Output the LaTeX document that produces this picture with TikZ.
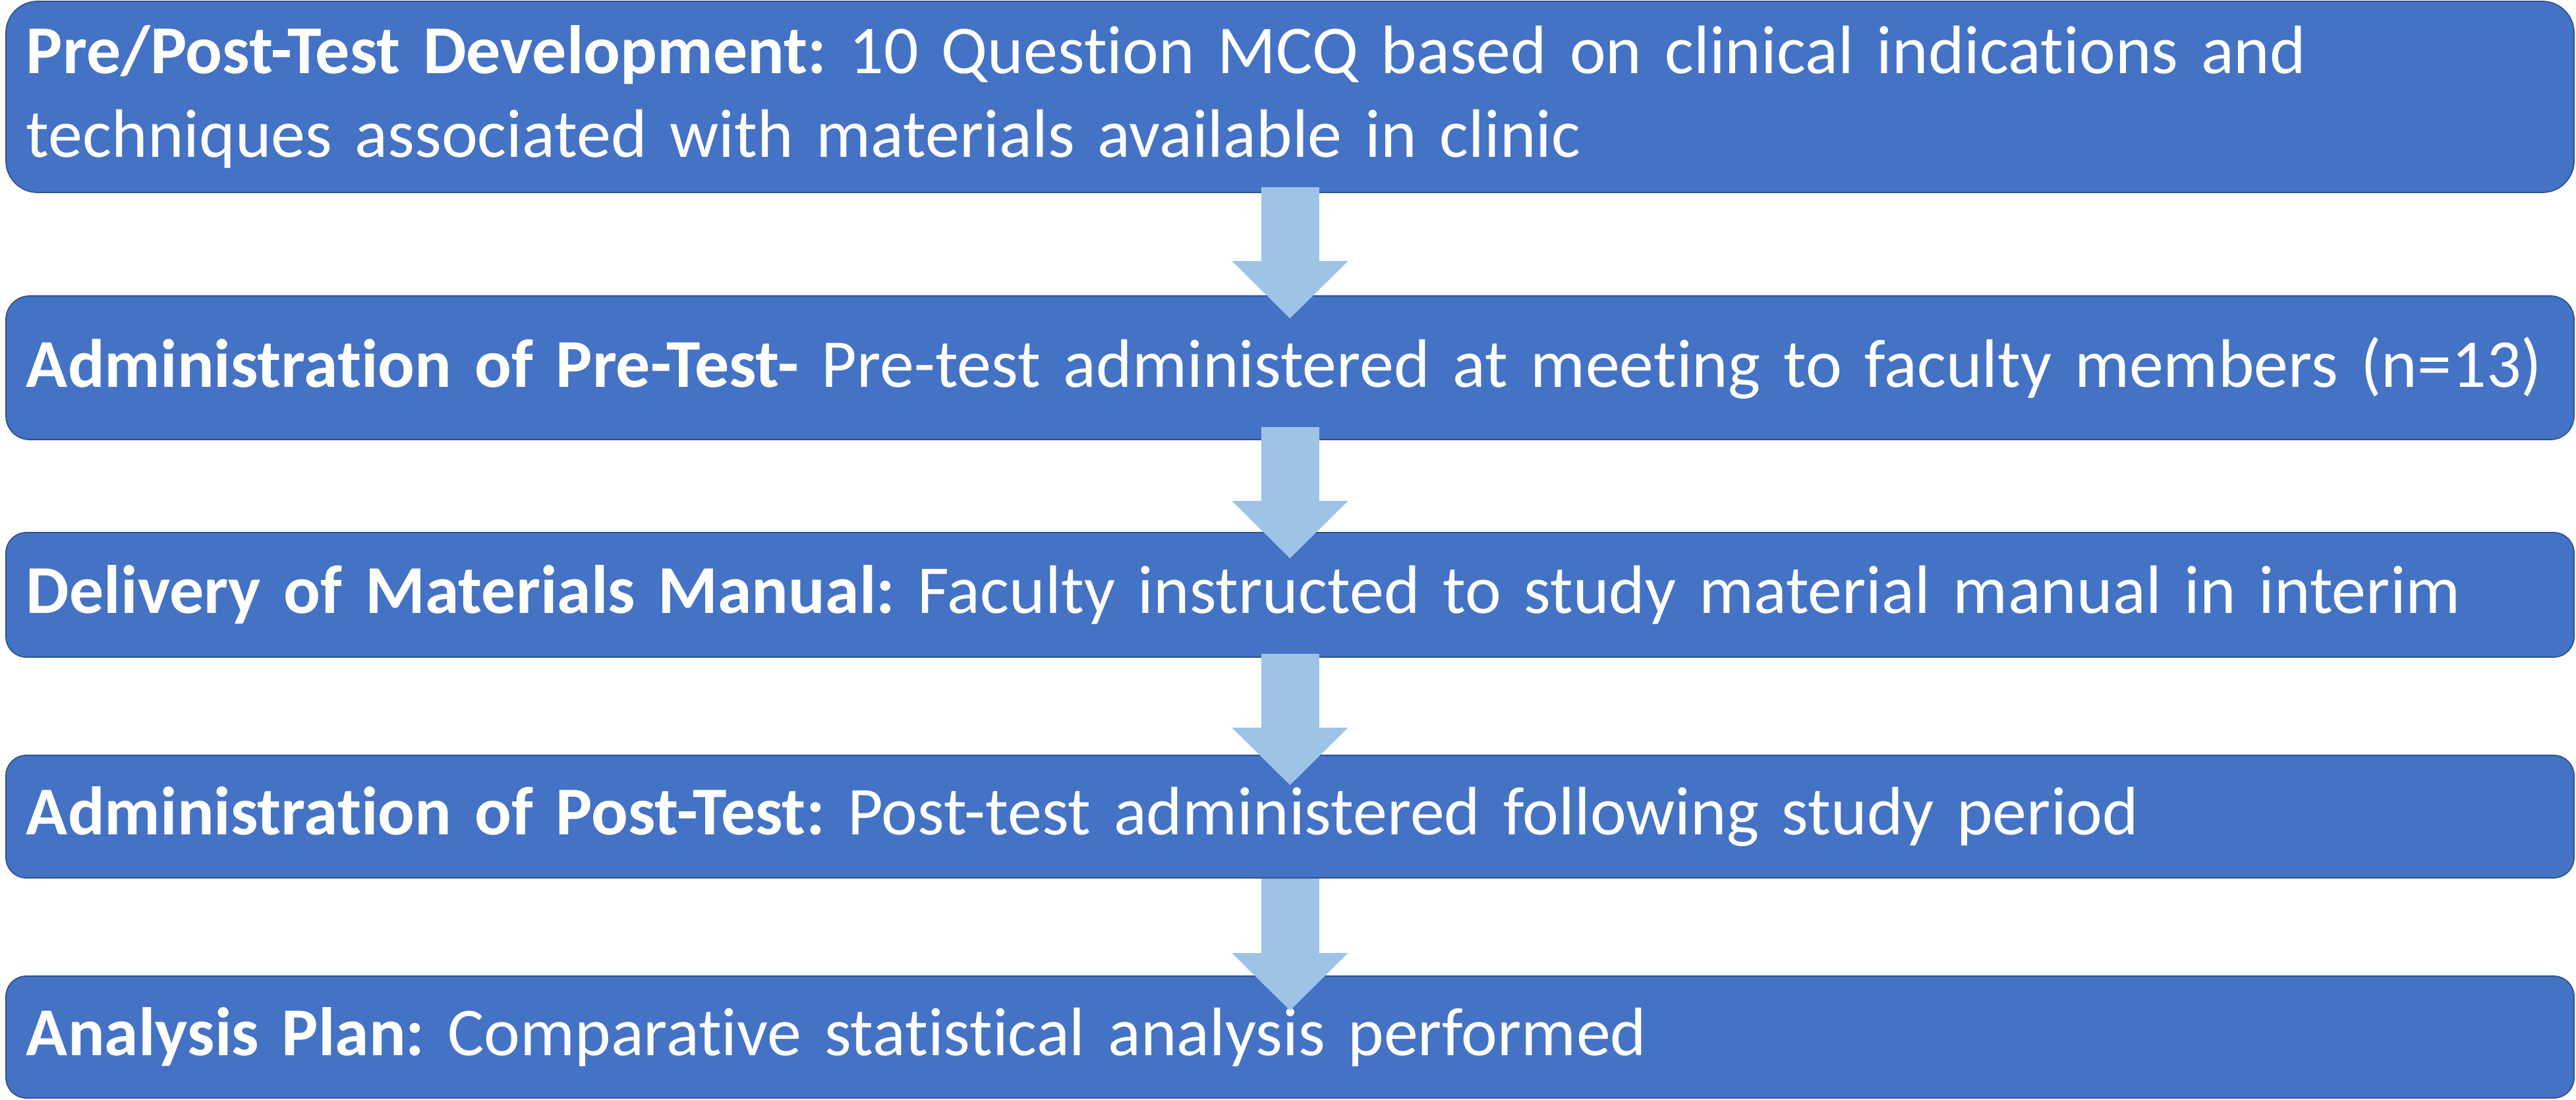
\documentclass[tikz,border=0pt]{standalone}
\usepackage{fontspec}
\setmainfont{Carlito}[Ligatures=NoCommon]
\usepackage{tikz}
\usetikzlibrary{calc}
\usetikzlibrary{arrows.meta}
\usepackage{xcolor}
\definecolor{boxBlue}{HTML}{4472C4}
\definecolor{boxEdge}{HTML}{2F528F}
\definecolor{arrowBlue}{HTML}{9DC3E6}
\frenchspacing
\tikzset{mybox/.style={draw=boxEdge, line width=0.5pt, fill=boxBlue, text=white, minimum width=38.97cm, text width=38.35cm, inner xsep=0.31cm, inner ysep=0pt, align=left, rounded corners=0.31cm, font=\fontsize{29.6pt}{36.1pt}\selectfont}}
\tikzset{myboxTop/.style={mybox, minimum height=2.90cm, rounded corners=0.48cm}}
\tikzset{myArrow/.style={draw=arrowBlue, line width=0.88cm, -{Triangle[width=1.76cm, length=0.87cm, line width=0pt, fill=arrowBlue]}}}

\begin{document}
\begin{tikzpicture}

\useasboundingbox (0,0) rectangle (39.09,-16.69);

\node[myboxTop] (b1) at (19.575, -1.47) {\textbf{Pre/Post-Test Development:} 10 Question MCQ based on clinical indications and\\techniques associated with materials available in clinic};
\node[mybox, minimum height=2.18cm, rounded corners=0.36cm] (b2) at (19.575, -5.58) {\textbf{Administration of Pre-Test-} Pre-test administered at meeting to faculty members (n=13)};
\node[mybox, minimum height=1.89cm] (b3) at (19.575, -9.025) {\textbf{Delivery of Materials Manual:} Faculty instructed to study material manual in interim};
\node[mybox, minimum height=1.86cm] (b4) at (19.575, -12.39) {\textbf{Administration of Post-Test:} Post-test administered following study period};
\node[mybox, minimum height=1.85cm] (b5) at (19.575, -15.735) {\textbf{Analysis Plan:} Comparative statistical analysis performed};

\draw[myArrow] ([yshift=0.09cm]b1.south) -- ([yshift=-0.35cm]b2.north);
\draw[myArrow] ([yshift=0.20cm]b2.south) -- ([yshift=-0.40cm]b3.north);
\draw[myArrow] ([yshift=0.06cm]b3.south) -- ([yshift=-0.46cm]b4.north);
\draw[myArrow] (b4.south) -- ([yshift=-0.53cm]b5.north);

\end{tikzpicture}
\end{document}
